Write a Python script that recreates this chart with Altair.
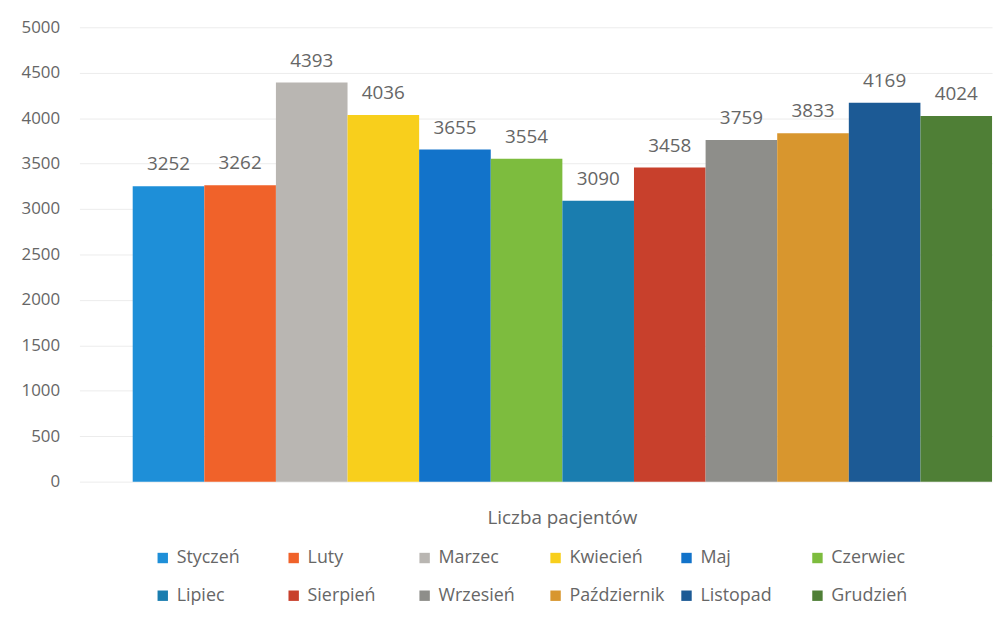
import altair as alt
import pandas as pd

months = ["Styczeń", "Luty", "Marzec", "Kwiecień", "Maj", "Czerwiec",
          "Lipiec", "Sierpień", "Wrzesień", "Październik", "Listopad", "Grudzień"]
values = [3252, 3262, 4393, 4036, 3655, 3554, 3090, 3458, 3759, 3833, 4169, 4024]
colors = ["#1E8FD8", "#F0622A", "#B9B6B2", "#F8CF1C", "#1273CA", "#7DBC3E",
          "#1A7DAF", "#C8402C", "#8E8E8A", "#D8962E", "#1C5A95", "#4F7F36"]
category = "Liczba pacjentów"

df = pd.DataFrame({"kategoria": [category] * len(months), "miesiac": months, "wartosc": values})

FONT = "Open Sans"
GRAY = "#666666"

base = alt.Chart(df).encode(
    x=alt.X("kategoria:N", title=None,
            scale=alt.Scale(paddingInner=0, paddingOuter=0.031, align=1),
            axis=alt.Axis(labelFontSize=19, labelColor=GRAY, labelFont=FONT,
                          labelPadding=27, ticks=False, domain=False, grid=False,
                          labelAngle=0)),
    xOffset=alt.XOffset("miesiac:N", sort=months, scale=alt.Scale(paddingInner=0, paddingOuter=0)),
)

bars = base.mark_bar(strokeWidth=0).encode(
    y=alt.Y("wartosc:Q", title=None,
            scale=alt.Scale(domain=[0, 5000]),
            axis=alt.Axis(values=list(range(0, 5001, 500)), format="d", labelFontSize=17,
                          labelColor=GRAY, labelFont=FONT, labelPadding=20,
                          ticks=False, domain=False, gridColor="#ececec")),
    color=alt.Color("miesiac:N", sort=months,
                    scale=alt.Scale(domain=months, range=colors),
                    legend=alt.Legend(title=None, orient="none", legendX=75, legendY=526,
                                      direction="horizontal", columns=6, gridAlign="all",
                                      columnPadding=13, rowPadding=20, padding=0,
                                      symbolType="square", symbolSize=110,
                                      symbolStrokeWidth=0, labelFontSize=18,
                                      labelFont=FONT, labelColor=GRAY, labelOffset=5,
                                      labelLimit=200)),
)

labels = base.mark_text(baseline="bottom", dy=-12, fontSize=19, font=FONT, color=GRAY).encode(
    y=alt.Y("wartosc:Q"),
    text=alt.Text("wartosc:Q"),
)

chart = (bars + labels).properties(
    width=920, height=458,
    background="white",
    autosize=alt.AutoSizeParams(type="none"),
    padding={"left": 72, "top": 17, "right": 5, "bottom": 134},
).configure_view(stroke=None)

chart.save("out.html", embed_options={"renderer": "svg", "actions": False})
